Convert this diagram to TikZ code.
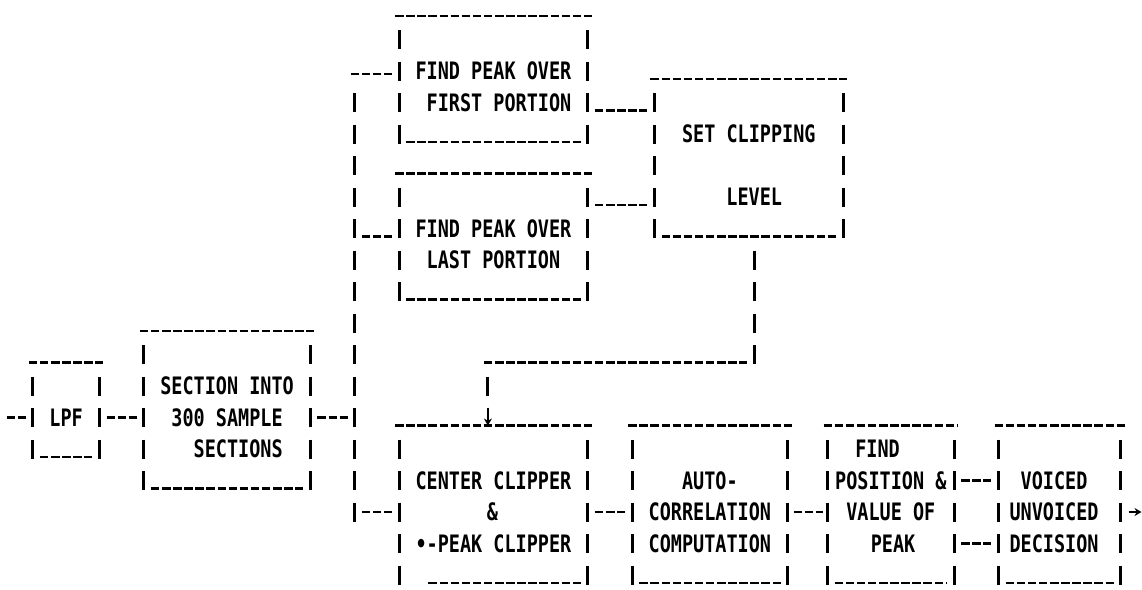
\documentclass[tikz,border=0pt]{standalone}
\usepackage{fontspec}
\newfontfamily\dotfont[FakeStretch=0.77]{DejaVu Sans Mono}
\usetikzlibrary{arrows.meta}
% grid: column j -> x, row k -> y (pixels, y downwards)
\newcommand\cx[1]{11.1*#1-0.5}
\newcommand\ry[1]{8+31.5*#1}
\tikzset{
  hl/.style={line width=2.7pt, dash pattern=on 8.5pt off 2.6pt},
  vb/.style={line width=3.1pt, dash pattern=on 19pt off 12.5pt},
  area/.style={inner sep=0pt, outer sep=0pt, draw=none, rectangle},
  txt/.style={font=\dotfont\bfseries\fontsize{24}{24}\selectfont, inner sep=0pt,
              text height=17.5pt, text depth=0pt, anchor=center},
  arr/.style={line width=2.4pt, -{Stealth[length=7pt,width=8pt]}},
}
% box: name, left col, right col, top row, bottom row
\newcommand\abox[5]{%
  \pgfmathsetmacro\bxa{11.1*#2-0.5}%
  \pgfmathsetmacro\bxb{11.1*#3-0.5}%
  \pgfmathsetmacro\bya{16+31.5*#4}%
  \pgfmathsetmacro\byb{16+31.5*#5}%
  \pgfmathsetmacro\bw{\bxb-\bxa}%
  \pgfmathsetmacro\bh{\byb-\bya}%
  \pgfmathsetmacro\bcx{(\bxa+\bxb)/2}%
  \pgfmathsetmacro\bcy{(\bya+\byb)/2}%
  \node[area, minimum width=\bw pt, minimum height=\bh pt] (#1) at (\bcx,\bcy) {};
  \draw[hl] ([xshift=-4pt]#1.north west) -- ([xshift=4pt]#1.north east);
  \draw[vb] ([yshift=-14pt]#1.north west) -- ([yshift=-1.5pt]#1.south west);
  \draw[vb] ([yshift=-14pt]#1.north east) -- ([yshift=-1.5pt]#1.south east);
}
% bottom underscores: name, extra left offset
\newcommand\abottom[2]{%
  \draw[hl] ([xshift=7.1pt+#2]#1.south west) -- ([xshift=-7.1pt]#1.south east);
}
\newcommand\tx[4]{\node[txt] (#1) at (\cx{#2},\ry{#3}) {#4};}
\begin{document}
\begin{tikzpicture}[x=1pt, y=-1pt]
\path[use as bounding box, fill=white] (0,0) rectangle (1142,589);

% boxes
\abox{lpf}{3}{9}{11}{14}    \abottom{lpf}{0pt}
\abox{sec}{13}{28}{10}{15}  \abottom{sec}{0pt}
\abox{fp1}{36}{53}{0}{4}    \abottom{fp1}{0pt}
\abox{fp2}{36}{53}{5}{9}    \abottom{fp2}{0pt}
\abox{set}{59}{76}{2}{7}    \abottom{set}{0pt}
\abox{cc}{36}{53}{13}{18}   \abottom{cc}{22.2pt}
\abox{ac}{57}{71}{13}{18}   \abottom{ac}{0pt}
\abox{fpv}{74.6}{86}{13}{18}\abottom{fpv}{0pt}
\abox{vud}{90}{101}{13}{18} \abottom{vud}{0pt}

% texts
\tx{lpf1}{6}{13}{LPF}
\tx{sec1}{20.5}{12}{SECTION INTO}
\tx{sec2}{20.5}{13}{300 SAMPLE}
\tx{sec3}{21.5}{14}{SECTIONS}
\tx{fp1a}{44.5}{2}{FIND PEAK OVER}
\tx{fp1b}{45}{3}{FIRST PORTION}
\tx{fp2a}{44.5}{7}{FIND PEAK OVER}
\tx{fp2b}{44.5}{8}{LAST PORTION}
\tx{set1}{67.5}{4}{SET CLIPPING}
\tx{set2}{68}{6}{LEVEL}
\tx{cc1}{44.5}{15}{CENTER CLIPPER}
\tx{cc2}{44.4}{16}{\&}
\tx{cc3}{44.5}{17}{•-PEAK CLIPPER}
\tx{ac1}{64}{15}{AUTO-}
\tx{ac2}{64}{16}{CORRELATION}
\tx{ac3}{64}{17}{COMPUTATION}
\tx{fpv1}{79.1}{14}{FIND}
\tx{fpv2}{80.3}{15}{POSITION \&}
\tx{fpv3}{80.3}{16}{VALUE OF}
\tx{fpv4}{80.5}{17}{PEAK}
\tx{vud1}{95}{15}{VOICED}
\tx{vud2}{95}{16}{UNVOICED}
\tx{vud3}{95}{17}{DECISION}

% row reference coordinates
\coordinate (r3u) at (0,\ry{3}+8);
\coordinate (r6u) at (0,\ry{6}+8);
\coordinate (r7u) at (0,\ry{7}+8);
\coordinate (r11u) at (0,\ry{11}+8);
\coordinate (r13) at (0,\ry{13});
\coordinate (r15) at (0,\ry{15});
\coordinate (r16) at (0,\ry{16});
\coordinate (r17) at (0,\ry{17});

% input and LPF -> SECTION
\coordinate (in) at (\cx{1}-4,\ry{13});
\draw[hl, shorten >=7.1pt] (in) -- (lpf.west |- in);
\draw[hl, shorten <=7.1pt, shorten >=7.1pt] (lpf.east |- r13) -- (sec.west |- r13);

% bus
\coordinate (busT) at (\cx{32},\ry{3}-9.5);
\coordinate (busB) at (\cx{32},\ry{16}+9.5);
\coordinate (bus2) at (\cx{32}-4,74);
\draw[vb] (busT) -- (busB);
\draw[hl, shorten <=7.1pt, shorten >=7.1pt] (sec.east |- r13) -- (busT |- r13);
\draw[hl, shorten >=7.1pt] (bus2) -- (fp1.west |- bus2);
\draw[hl, shorten <=7.1pt, shorten >=7.1pt] (busT |- r7u) -- (fp2.west |- r7u);
\draw[hl, shorten <=7.1pt, shorten >=7.1pt] (busT |- r16) -- (cc.west |- r16);

% peak finders -> set clipping level
\draw[hl, shorten <=7.1pt, shorten >=7.1pt] (fp1.east |- r3u) -- (set.west |- r3u);
\draw[hl, shorten <=7.1pt, shorten >=7.1pt] (fp2.east |- r6u) -- (set.west |- r6u);

% set clipping level -> center clipper
\coordinate (stemB) at (\cx{68},\ry{11}+9.5);
\coordinate (drop) at (\cx{44},\ry{11}+8);
\coordinate (dropA) at (\cx{44},\ry{12}-9.5);
\coordinate (dropB) at (\cx{44},\ry{12}+9.5);
\coordinate (dropC) at (\cx{44},\ry{13}-10);
\draw[vb, shorten <=14pt] (set.south -| stemB) -- (stemB);
\draw[hl, shorten >=7.1pt] ([xshift=-4pt]drop) -- (stemB |- r11u);
\draw[vb] (dropA) -- (dropB);
\draw[arr] (dropC) -- (cc.north -| drop);

% bottom chain
\draw[hl, shorten <=7.1pt, shorten >=7.1pt] (cc.east |- r16) -- (ac.west |- r16);
\draw[hl, shorten <=6pt, shorten >=5pt] (ac.east |- r16) -- (fpv.west |- r16);
\draw[hl, shorten <=7.1pt, shorten >=7.1pt] (fpv.east |- r15) -- (vud.west |- r15);
\draw[hl, shorten <=7.1pt, shorten >=7.1pt] (fpv.east |- r17) -- (vud.west |- r17);

% output
\coordinate (out) at (1141.5,\ry{16});
\draw[line width=2.4pt, -{Stealth[length=7pt,width=8pt]}, shorten <=8pt] (vud.east |- r16) -- (out);
\end{tikzpicture}
\end{document}
